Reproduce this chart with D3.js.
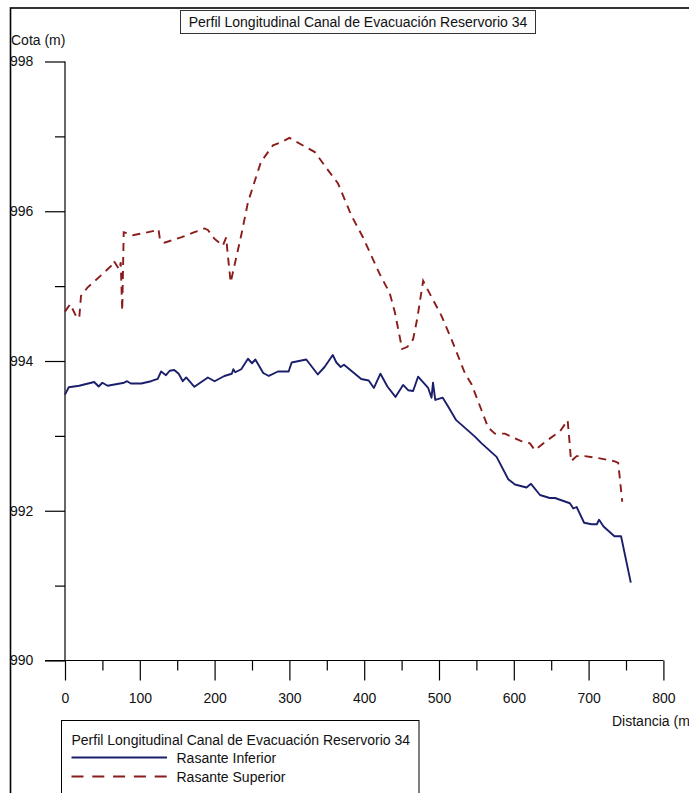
<!DOCTYPE html>
<html>
<head>
<meta charset="utf-8">
<script src="https://cdn.jsdelivr.net/npm/d3@7/dist/d3.min.js"></script>
<style>
  html, body { margin: 0; padding: 0; background: #fff; }
  svg { display: block; }
  text { font-family: "Liberation Sans", Arial, sans-serif; fill: #111; }
</style>
</head>
<body>
<svg id="chart" width="689" height="793"></svg>
<script>
// ---- Data ----
const chartTitle = "Perfil Longitudinal Canal de Evacuación Reservorio 34";
const yAxisTitle = "Cota (m)";
const xAxisTitle = "Distancia (m)";
const seriesNames = ["Rasante Inferior", "Rasante Superior"];

const xMajorTicks = [0, 100, 200, 300, 400, 500, 600, 700, 800];
const xMinorTicks = [50, 150, 250, 350, 450, 550, 650, 750];
const yMajorTicks = [990, 992, 994, 996, 998];
const yMinorTicks = [991, 993, 995, 997];

const infDist = [0, 5, 19, 39, 45, 50, 57, 79, 83, 88, 102, 115, 124, 128.5, 135, 140, 146, 152, 157.5, 162,
  173, 191, 200, 213, 223, 225, 227.6, 235.6, 244.6, 250, 254.5, 265, 272.5, 284.7, 299, 303, 322.6, 338, 347,
  358, 362.8, 368.6, 373, 396, 406, 413, 421.7, 431, 441.8, 452, 458.7, 465.4, 472, 485.5, 490, 492, 495, 505,
  513, 523, 548, 557, 577, 592.6, 601.5, 617, 623, 635, 648, 655, 675, 679.6, 684, 694, 704, 711, 714, 720,
  734.5, 743.4, 756.4];
const infCota = [993.55, 993.65, 993.67, 993.72, 993.66, 993.71, 993.67, 993.71, 993.73, 993.70, 993.70, 993.73,
  993.76, 993.86, 993.81, 993.87, 993.88, 993.83, 993.73, 993.78, 993.655, 993.78, 993.73, 993.80, 993.83, 993.89,
  993.85, 993.89, 994.03, 993.97, 994.02, 993.84, 993.80, 993.86, 993.86, 993.98, 994.02, 993.82, 993.92, 994.08,
  993.98, 993.92, 993.95, 993.76, 993.74, 993.64, 993.83, 993.66, 993.52, 993.68, 993.61, 993.60, 993.79, 993.64,
  993.51, 993.71, 993.48, 993.51, 993.38, 993.21, 992.99, 992.90, 992.72, 992.42, 992.35, 992.31, 992.36, 992.21,
  992.17, 992.17, 992.10, 992.03, 992.05, 991.84, 991.82, 991.82, 991.88, 991.79, 991.66, 991.66, 991.04];

const supDist = [0, 7, 14.7, 19, 21.4, 30, 50, 61.6, 65, 72.7, 74.5, 76.5, 78.5, 90.6, 106, 119.6, 125, 127,
  133, 155, 173, 186.5, 191, 200, 211, 215.5, 217.5, 221.5, 235.6, 244.6, 262, 278, 289, 300, 325, 334, 351.6,
  365, 383, 398.5, 420.8, 434, 441, 450.7, 457.8, 465.4, 470.8, 478.8, 485.5, 503, 516.7, 534.5, 543.5, 565.8,
  574.7, 588, 610, 621.6, 628, 646, 661.7, 672, 675, 676.5, 684, 695, 715, 735, 739.6, 745];
const supCota = [994.66, 994.76, 994.60, 994.57, 994.87, 994.98, 995.16, 995.27, 995.34, 995.22, 995.32, 994.67,
  995.72, 995.68, 995.71, 995.74, 995.76, 995.62, 995.58, 995.65, 995.72, 995.77, 995.75, 995.63, 995.54, 995.65,
  995.43, 995.05, 995.68, 996.12, 996.66, 996.88, 996.92, 996.98, 996.84, 996.79, 996.55, 996.37, 995.94, 995.65,
  995.16, 994.91, 994.65, 994.16, 994.19, 994.29, 994.56, 995.07, 994.94, 994.61, 994.29, 993.84, 993.69, 993.11,
  993.03, 993.03, 992.93, 992.90, 992.81, 992.95, 993.06, 993.21, 992.86, 992.66, 992.73, 992.73, 992.70, 992.66,
  992.64, 992.12];

// ---- Layout ----
const FONT = 14;
const FF = '"Liberation Sans", Arial, sans-serif';
const colInf = "#1b1f6b";
const colSup = "#8b1c1c";
const svg = d3.select("#chart");

const x = d3.scaleLinear().domain([0, 800]).range([65, 663.4]);
const y = d3.scaleLinear().domain([990, 998]).range([660.5, 61.5]);

// outer frame
svg.append("rect").attr("x", 10.5).attr("y", 8).attr("width", 700).attr("height", 800)
  .attr("fill", "none").attr("stroke", "#000").attr("stroke-width", 1.6);

// title box
const tb = svg.append("g");
tb.append("rect").attr("x", 180.5).attr("y", 10.5).attr("width", 355).attr("height", 23)
  .attr("fill", "#fcfcfc").attr("stroke", "#333").attr("stroke-width", 1);
tb.append("text").attr("x", 358).attr("y", 22).attr("text-anchor", "middle")
  .attr("dominant-baseline", "central").style("font-size", FONT + "px").text(chartTitle);

// y axis title
svg.append("text").attr("x", 11).attr("y", 40).attr("dominant-baseline", "central")
  .style("font-size", FONT + "px").text(yAxisTitle);

// X axis (minor + major)
const gx = svg.append("g").attr("transform", `translate(0,${y(990)})`);
gx.append("g").call(d3.axisBottom(x).tickValues(xMinorTicks).tickSize(10).tickFormat(""))
  .call(g => g.select(".domain").remove());
gx.append("g").call(d3.axisBottom(x).tickValues(xMajorTicks).tickSize(20).tickPadding(12.5).tickFormat(d3.format("d")))
  .call(g => g.select(".domain").remove())
  .call(g => g.selectAll("text").style("font-size", FONT + "px").style("font-family", FF).attr("fill", "#111"));
gx.append("line").attr("x1", 45).attr("x2", x(800)).attr("y1", 0).attr("y2", 0)
  .attr("stroke", "#000").attr("stroke-width", 1.2);
gx.selectAll(".tick line").attr("stroke", "#000").attr("stroke-width", 1.2);

// Y axis
const gy = svg.append("g").attr("transform", `translate(${x(0)},0)`);
gy.append("g").call(d3.axisLeft(y).tickValues(yMinorTicks).tickSize(10).tickFormat(""))
  .call(g => g.select(".domain").remove());
gy.append("g").call(d3.axisLeft(y).tickValues(yMajorTicks).tickSize(20).tickFormat(d3.format("d")))
  .call(g => g.select(".domain").remove())
  .call(g => g.selectAll("text").attr("x", 10 - x(0)).attr("text-anchor", "start")
    .style("font-size", FONT + "px").style("font-family", FF).attr("fill", "#111"));
gy.append("line").attr("x1", 0).attr("x2", 0).attr("y1", y(998)).attr("y2", y(990))
  .attr("stroke", "#000").attr("stroke-width", 1.2);
gy.selectAll(".tick line").attr("stroke", "#000").attr("stroke-width", 1.2);

// x axis title (runs past the right edge, as in the reference)
svg.append("text").attr("x", 612).attr("y", 721).attr("dominant-baseline", "central")
  .style("font-size", FONT + "px").text(xAxisTitle);

// lines
const line = d3.line().x(d => x(d[0])).y(d => y(d[1]));
const infData = infDist.map((d, i) => [d, infCota[i]]);
const supData = supDist.map((d, i) => [d, supCota[i]]);

svg.append("path").datum(supData).attr("d", line).attr("fill", "none")
  .attr("stroke", colSup).attr("stroke-width", 1.9).attr("stroke-dasharray", "8,6");
svg.append("path").datum(infData).attr("d", line).attr("fill", "none")
  .attr("stroke", colInf).attr("stroke-width", 1.9).attr("stroke-linejoin", "round");

// legend
const lg = svg.append("g");
lg.append("rect").attr("x", 61.5).attr("y", 720.5).attr("width", 357.5).attr("height", 100)
  .attr("fill", "#fff").attr("stroke", "#000").attr("stroke-width", 1);
lg.append("text").attr("x", 71.5).attr("y", 739.5).attr("dominant-baseline", "central")
  .style("font-size", FONT + "px").text(chartTitle);
lg.append("line").attr("x1", 71.5).attr("x2", 167).attr("y1", 757.5).attr("y2", 757.5)
  .attr("stroke", colInf).attr("stroke-width", 1.9);
lg.append("text").attr("x", 176.5).attr("y", 758).attr("dominant-baseline", "central")
  .style("font-size", FONT + "px").text(seriesNames[0]);
lg.append("line").attr("x1", 71.5).attr("x2", 167).attr("y1", 776.5).attr("y2", 776.5)
  .attr("stroke", colSup).attr("stroke-width", 1.9).attr("stroke-dasharray", "12,8.8");
lg.append("text").attr("x", 176.5).attr("y", 777).attr("dominant-baseline", "central")
  .style("font-size", FONT + "px").text(seriesNames[1]);
</script>
</body>
</html>
